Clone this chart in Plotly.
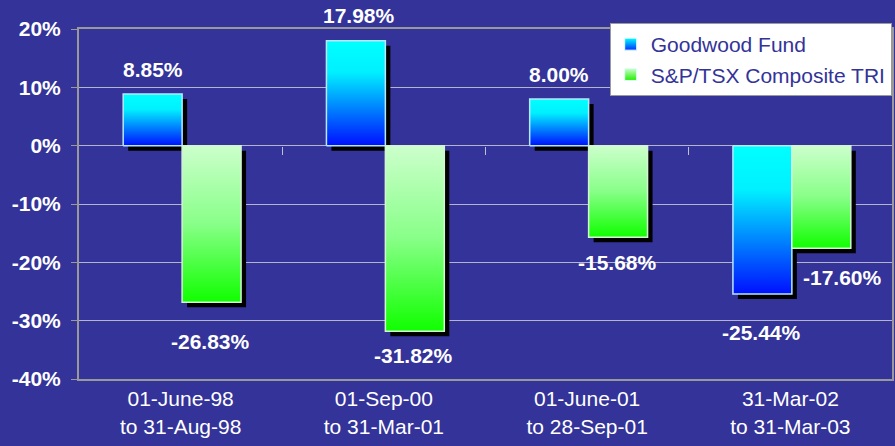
import plotly.graph_objects as go

# ---------------- data ----------------
periods = ["01-June-98<br>to 31-Aug-98", "01-Sep-00<br>to 31-Mar-01",
           "01-June-01<br>to 28-Sep-01", "31-Mar-02<br>to 31-Mar-03"]
series_names = ["Goodwood Fund", "S&P/TSX Composite TRI"]
goodwood = [8.85, 17.98, 8.00, -25.44]
sptsx = [-26.83, -31.82, -15.68, -17.60]
y_ticks = [-40, -30, -20, -10, 0, 10, 20]
y_ticktext = ["-40%", "-30%", "-20%", "-10%", "0%", "10%", "20%"]

# ---------------- style ----------------
FONT = "Liberation Sans, Arial, sans-serif"
BG = "#333399"
W, H = 895, 446
ML, MR, MT, MB = 79, 1, 29, 67
YMIN, YMAX = -40, 20
BAR_W = 0.29
plot_w = W - ML - MR
plot_h = H - MT - MB
unit_px = plot_w / 4.0
shadow_dx = 5.0 / unit_px
shadow_dy = 5.0 * (YMAX - YMIN) / plot_h
bar_shift = 1.5 / unit_px

styles = [
    dict(scale=[[0, "#0010ff"], [0.35, "#0080ff"], [0.7, "#00f0ff"], [1, "#00ffff"]],
         line="#b8e8ff", offset=-BAR_W + bar_shift, legend_top="#00ffff", legend_bot="#0030ff",
         label_shift=[(0, 25), (3, 25), (0, 25), (-1, -38)]),
    dict(scale=[[0, "#10ff00"], [0.5, "#88ff88"], [1, "#ccffcc"]],
         line="#d4f4d4", offset=bar_shift, legend_top="#ccffcc", legend_bot="#22ee00",
         label_shift=[(-1, -39), (-1, -24.5), (-1, -25.5), (21, -29)]),
]
all_series = [goodwood, sptsx]

fig = go.Figure()

# shadows (drawn first, behind)
for vals, st in zip(all_series, styles):
    fig.add_trace(go.Bar(
        x=list(range(len(vals))), y=vals, base=[-shadow_dy] * len(vals),
        offset=st["offset"] + shadow_dx, width=BAR_W,
        marker=dict(color="black", line=dict(width=0)),
        showlegend=False, hoverinfo="skip"))

# gradient bars
for vals, st, name in zip(all_series, styles, series_names):
    for i, v in enumerate(vals):
        x0 = i + st["offset"]
        x1 = x0 + BAR_W
        fig.add_trace(go.Scatter(
            x=[x0, x0, x1, x1, x0], y=[0, v, v, 0, 0],
            mode="lines", fill="toself",
            fillgradient=dict(type="vertical", colorscale=st["scale"]),
            line=dict(color=st["line"], width=1.5),
            showlegend=False, hoverinfo="skip", name=name))

# legend entries
for st, name in zip(styles, series_names):
    fig.add_trace(go.Scatter(
        x=[None], y=[None], mode="markers", name=name, xaxis="x2",
        marker=dict(symbol="square", size=12, color=st["legend_top"],
                    gradient=dict(type="vertical", color=st["legend_bot"]),
                    line=dict(color="#e0ffff", width=1))))

# value labels
annotations = []
for vals, st in zip(all_series, styles):
    for i, v in enumerate(vals):
        dx, dy = st["label_shift"][i]
        annotations.append(dict(
            x=i + st["offset"] + BAR_W / 2, y=v, xref="x", yref="y",
            text=f"{v:.2f}%", showarrow=False, xanchor="center", yanchor="middle",
            xshift=dx, yshift=dy,
            font=dict(family=FONT, size=21, color="white", weight="bold")))

fig.update_layout(
    width=W, height=H, autosize=False,
    margin=dict(l=ML, r=MR, t=MT, b=MB, pad=0),
    paper_bgcolor=BG, plot_bgcolor=BG,
    barmode="overlay",
    font=dict(family=FONT, color="white"),
    annotations=annotations,
    legend=dict(x=(611 - ML) / plot_w, y=1 + 6 / plot_h, xanchor="left", yanchor="top",
                bgcolor="white", bordercolor="#9a9a9a", borderwidth=1,
                font=dict(family=FONT, size=21, color="#333399"),
                itemwidth=30, tracegroupgap=0),
    xaxis=dict(range=[-0.5, len(periods) - 0.5], tickvals=list(range(len(periods))),
               ticktext=periods, showgrid=False, zeroline=False,
               showline=True, linecolor="#999999", linewidth=2, mirror=True,
               ticks="", tickfont=dict(family=FONT, size=21, color="white")),
    xaxis2=dict(overlaying="x", anchor="free", position=(0 - YMIN) / (YMAX - YMIN),
                side="bottom", range=[-0.5, len(periods) - 0.5],
                tickvals=[i + 0.5 for i in range(len(periods) - 1)],
                ticks="outside", ticklen=8, tickcolor="#c0c0d0", tickwidth=1,
                showticklabels=False, showline=False, showgrid=False, zeroline=False,
                layer="below traces"),
    yaxis=dict(range=[YMIN, YMAX], tickvals=y_ticks, ticktext=y_ticktext,
               showgrid=True, gridcolor="#b4b4cc", gridwidth=1, zeroline=False,
               showline=True, linecolor="#999999", linewidth=2, mirror=True,
               ticks="outside", ticklen=6, tickcolor="#999999", ticklabelstandoff=6,
               tickfont=dict(family=FONT, size=21, color="white", weight="bold")),
)

fig.write_html("out.html")
